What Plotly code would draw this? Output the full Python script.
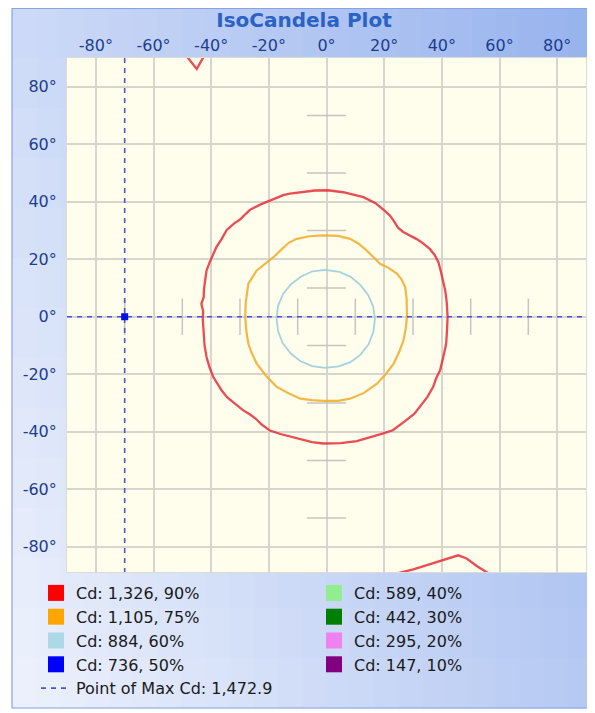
import plotly.graph_objects as go

# ---------------- data ----------------
TITLE = "IsoCandela Plot"
X_RANGE = [-90, 90]
Y_RANGE = [-88.8, 90]
X_TICKS = [-80, -60, -40, -20, 0, 20, 40, 60, 80]
X_TICK_LABELS = ["-80°", "-60°", "-40°", "-20°", "0°", "20°", "40°", "60°", "80°"]
Y_TICKS = [-80, -60, -40, -20, 0, 20, 40, 60, 80]
Y_TICK_LABELS = ["-80°", "-60°", "-40°", "-20°", "0°", "20°", "40°", "60°", "80°"]
MINOR_TICKS = [-70, -50, -30, -10, 10, 30, 50, 70]

LEVEL_LABELS = ["Cd: 1,326, 90%", "Cd: 1,105, 75%", "Cd: 884, 60%", "Cd: 736, 50%",
                "Cd: 589, 40%", "Cd: 442, 30%", "Cd: 295, 20%", "Cd: 147, 10%"]
LEVEL_COLORS = ["#ff0000", "#ffa500", "#add8e6", "#0000ff",
                "#90ee90", "#008000", "#ee82ee", "#800080"]

# 90% contour (main loop + two fragments at the plot edges)
red90_x = [0.5, 5.8, 12.8, 17, 19.7, 22, 23.2, 24.8, 26.6, 29, 31.3, 33.5, 35.9, 37.5, 38.8,
           39.6, 40.5, 41.2, 41.7, 42, 41.8, 41.5, 40.5, 39.4, 38, 37, 35, 33, 30.5, 27, 23,
           19.7, 14, 10.5, 5, -1.1, -5, -8, -12.7, -16, -19.6, -22.5, -24.5, -26.5, -29, -31.7,
           -34.5, -36.4, -38, -39.3, -40.6, -41.6, -42.3, -42.7, -42.9, -42.8, -43.4, -42.6,
           -42.5, -42.1, -41.6, -40.5, -39.3, -38.2, -36.4, -34.6, -32, -30, -28, -26.5, -23,
           -18.4, -15, -12.7, -8, -4, 0.5]
red90_y = [44, 43.3, 41.6, 39.5, 37.3, 35.2, 33.5, 31, 29.5, 28.3, 27, 25.5, 23.5, 21.5, 19,
           16, 12.6, 9, 5, 0, -4.7, -9.4, -14, -18.6, -21.5, -24.4, -27.9, -30.5, -33.7, -36.5,
           -39.5, -40.6, -42.3, -43.3, -44, -44.1, -43.6, -42.9, -41.8, -40.8, -39.6, -37.5,
           -35.5, -34, -32.5, -30.2, -28, -25.6, -23.2, -20.9, -17.5, -14, -10, -5, -1, 2, 4.5,
           6.8, 9.5, 12.6, 16.1, 19, 22, 24.2, 27, 30.2, 32.5, 33.8, 35.8, 37.2, 39, 41, 42.3,
           42.8, 43.5, 43.9, 44]
red90_top_x = [-48.8, -45, -42.3]
red90_top_y = [91, 86.2, 91]
red90_bottom_x = [21, 23.2, 30.1, 37.1, 41.7, 45.7, 48.6, 52.1, 56.7, 58.5]
red90_bottom_y = [-91, -89.6, -87.9, -85.6, -84.1, -83, -84.1, -86.7, -89.6, -91]

# 75% contour
orange75_x = [-1.1, 4, 8.2, 11, 14, 16.5, 18.6, 21.5, 24.4, 26, 27.3, 27.8, 27.9, 27.5, 26.7,
              25.3, 23.3, 20.5, 17.5, 13, 8.2, 4, -1.1, -5, -9.1, -13, -17.3, -21, -24.2, -26,
              -27.1, -27.8, -28.2, -28, -27.1, -24.2, -21, -18.4, -15.5, -13, -10.3, -6, -1.1]
orange75_y = [28.3, 28.1, 27.1, 25.5, 23, 20.5, 18.4, 17, 15, 13, 10.3, 6, 0, -4, -8.2, -12,
              -16.3, -20, -23.3, -26.5, -28.5, -29.3, -29.3, -29, -28.5, -26.7, -24.4, -20.5,
              -16.3, -12.5, -9.4, -5, 0, 5, 11.5, 16.1, 18.5, 20.7, 23.5, 25.8, 27.1, 28, 28.3]

# 60% contour
blue60_x = [-0.5, 4.5, 8.5, 11.8, 14.5, 16.2, 16.8, 16.3, 14.6, 11.8, 8.3, 4.2, -0.5, -5, -9,
            -12.4, -15.2, -16.8, -17.3, -16.8, -15, -12.3, -8.8, -4.8, -0.5]
blue60_y = [16.3, 15.6, 13.8, 11.0, 7.5, 3.5, -0.7, -5.2, -9.6, -13.2, -15.8, -17.3, -17.8,
            -17.2, -15.5, -12.8, -9.2, -5, -0.7, 3.8, 8, 11.3, 14, 15.8, 16.3]

MAX_CD_LABEL = "Point of Max Cd: 1,472.9"
MAX_X = -70
MAX_Y = 0

# ---------------- styling ----------------
# the page body adds an 8px offset, so figure pixels = screen pixels - 8
W, H = 587, 705
ML, MR, MT, MB = 59, 9, 50, 141
PW = W - ML - MR
PH = H - MT - MB
FONT = "DejaVu Sans"


def px2paper_x(px):
    return (px - ML) / PW


def px2paper_y(py):
    return (H - MB - py) / PH


fig = go.Figure()

# crosshair minor ticks
fig.add_trace(go.Scatter(x=[0] * len(MINOR_TICKS), y=MINOR_TICKS, mode="markers",
                         marker=dict(symbol="line-ew", size=28,
                                     line=dict(color="#c4c4c0", width=1.5)),
                         showlegend=False, hoverinfo="skip"))
fig.add_trace(go.Scatter(x=MINOR_TICKS, y=[0] * len(MINOR_TICKS), mode="markers",
                         marker=dict(symbol="line-ns", size=26,
                                     line=dict(color="#c4c4c0", width=1.5)),
                         showlegend=False, hoverinfo="skip"))

# contours
red_x = red90_x + [None] + red90_top_x + [None] + red90_bottom_x
red_y = red90_y + [None] + red90_top_y + [None] + red90_bottom_y
contours = [(red_x, red_y, "rgba(232,44,56,0.85)", 2.3),
            (orange75_x, orange75_y, "rgba(242,170,40,0.85)", 2.2),
            (blue60_x, blue60_y, "rgba(160,208,222,0.95)", 1.8)]
for cx, cy, col, lw in contours:
    fig.add_trace(go.Scatter(x=cx, y=cy, mode="lines", line=dict(color=col, width=lw),
                             showlegend=False, hoverinfo="skip", connectgaps=False))

# point of max lines
fig.add_trace(go.Scatter(x=[MAX_X, MAX_X, None, X_RANGE[0], X_RANGE[1]],
                         y=[Y_RANGE[1], Y_RANGE[0] - 5, None, MAX_Y, MAX_Y],
                         mode="lines", name=MAX_CD_LABEL,
                         line=dict(color="#5050d8", width=1.6, dash="5px,5px"),
                         legendrank=20, hoverinfo="skip"))
fig.add_trace(go.Scatter(x=[MAX_X], y=[MAX_Y], mode="markers",
                         marker=dict(symbol="square", size=7, color="#0010e0"),
                         showlegend=False, hoverinfo="skip"))

# legend entries (row-major order for two columns)
order = [0, 4, 1, 5, 2, 6, 3, 7]
for rank, i in enumerate(order):
    fig.add_trace(go.Scatter(x=[None], y=[None], mode="markers", name=LEVEL_LABELS[i],
                             marker=dict(symbol="square", size=16, color=LEVEL_COLORS[i],
                                         line=dict(width=0)),
                             legendrank=rank + 1))

# background gradient panel
shapes = []
PX0, PX1, PY0, PY1 = 4, 584, 0, 700
ncol, nrow = 24, 14
TL, TR, BL, BR = (205, 218, 247), (150, 178, 237), (238, 242, 252), (182, 201, 243)
for ci in range(ncol):
    for ri in range(nrow):
        u = (ci + 0.5) / ncol
        v = (ri + 0.5) / nrow
        col = tuple(int(round((TL[k] * (1 - u) + TR[k] * u) * (1 - v) +
                              (BL[k] * (1 - u) + BR[k] * u) * v)) for k in range(3))
        x0 = PX0 + (PX1 - PX0) * ci / ncol
        x1 = PX0 + (PX1 - PX0) * (ci + 1) / ncol + 0.6
        y0 = PY0 + (PY1 - PY0) * ri / nrow
        y1 = PY0 + (PY1 - PY0) * (ri + 1) / nrow + 0.6
        shapes.append(dict(type="rect", xref="paper", yref="paper", layer="below",
                           x0=px2paper_x(x0), x1=px2paper_x(x1),
                           y0=px2paper_y(y1), y1=px2paper_y(y0),
                           line=dict(width=0), fillcolor="rgb(%d,%d,%d)" % col))
shapes.append(dict(type="rect", xref="paper", yref="paper", layer="below",
                   x0=0, x1=1, y0=0, y1=1, line=dict(width=0), fillcolor="#fffeec"))
shapes.append(dict(type="rect", xref="paper", yref="paper", layer="below",
                   x0=px2paper_x(PX0), x1=px2paper_x(PX1),
                   y0=px2paper_y(PY1), y1=px2paper_y(PY0 + 0.5),
                   line=dict(color="#86a4e4", width=1.2), fillcolor="rgba(0,0,0,0)"))

axis_common = dict(showgrid=True, gridcolor="#d6d6ce", gridwidth=1.5, zeroline=False,
                   ticks="", showline=True, linecolor="#dcdcd4", linewidth=1, mirror=True,
                   tickfont=dict(family=FONT, size=16, color="#1d3d8f"), fixedrange=True)

fig.update_layout(
    width=W, height=H,
    margin=dict(l=ML, r=MR, t=MT, b=MB, autoexpand=False),
    paper_bgcolor="white", plot_bgcolor="#fffeec",
    title=dict(text="<b>" + TITLE + "</b>", x=296 / W, xref="container", xanchor="center",
               y=1 - 12 / H, yref="container", yanchor="middle",
               font=dict(family=FONT, size=20, color="#2a62c6")),
    xaxis=dict(range=X_RANGE, side="top", tickvals=X_TICKS, ticktext=X_TICK_LABELS,
               ticklabelstandoff=0, **axis_common),
    yaxis=dict(range=Y_RANGE, tickvals=Y_TICKS, ticktext=Y_TICK_LABELS,
               ticklabelstandoff=6, **axis_common),
    showlegend=True,
    legend=dict(orientation="h", x=px2paper_x(28), xanchor="left",
                y=px2paper_y(568), yanchor="top", entrywidth=233, entrywidthmode="pixels",
                bgcolor="rgba(0,0,0,0)", borderwidth=0, traceorder="normal",
                font=dict(family=FONT, size=16, color="#1a1a1a"), itemclick=False),
    shapes=shapes,
)

fig.write_html("out.html")
